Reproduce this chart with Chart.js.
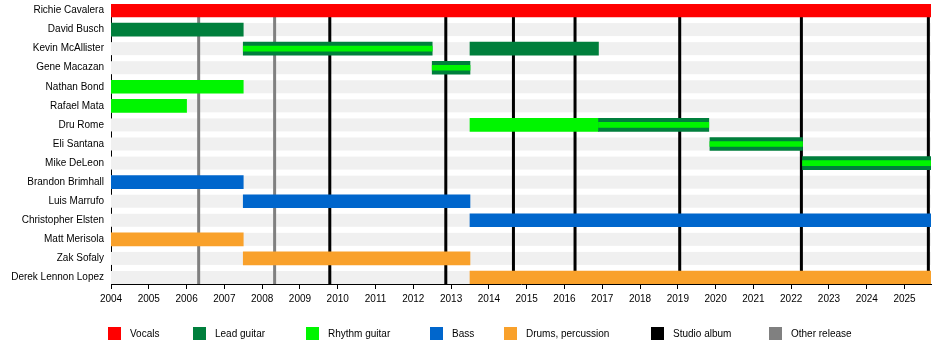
<!DOCTYPE html>
<html lang="en">
<head>
  <meta charset="UTF-8">
  <title>Band members timeline</title>
  <script src="https://cdn.jsdelivr.net/npm/chart.js"></script>
  <style>
    body {
      margin: 0;
      background: #fff;
      font-family: 'Liberation Sans', Arial, sans-serif;
    }
    .wrap {
      position: relative;
      width: 950px;
      height: 345px;
    }
    .legend-item {
      position: absolute;
      top: 327px;
      font-size: 10px;
      line-height: 13px;
      color: #000;
      white-space: nowrap;
    }
    .legend-item i {
      display: inline-block;
      width: 13px;
      height: 13px;
      vertical-align: top;
      margin-right: 9px;
    }
  </style>
</head>
<body>
  <div class="wrap">
    <canvas id="timeline" width="950" height="345"></canvas>
    <div id="legend"></div>
  </div>

  <script>
    const END = 2025.7;

    const members = [
      'Richie Cavalera', 'David Busch', 'Kevin McAllister', 'Gene Macazan',
      'Nathan Bond', 'Rafael Mata', 'Dru Rome', 'Eli Santana', 'Mike DeLeon',
      'Brandon Brimhall', 'Luis Marrufo', 'Christopher Elsten',
      'Matt Merisola', 'Zak Sofaly', 'Derek Lennon Lopez'
    ];

    // [row, start, end]
    const vocals = [[0, 2004, END]];
    const leadGuitar = [[1, 2004, 2007.5], [2, 2013.5, 2016.9]];
    const rhythmGuitar = [[4, 2004, 2007.5], [5, 2004, 2006], [6, 2013.5, 2016.9]];
    // lead + rhythm (striped)
    const leadRhythm = [
      [2, 2007.5, 2012.5], [3, 2012.5, 2013.5], [6, 2016.9, 2019.82],
      [7, 2019.85, 2022.3], [8, 2022.3, END]
    ];
    const bass = [[9, 2004, 2007.5], [10, 2007.5, 2013.5], [11, 2013.5, END]];
    const drums = [[12, 2004, 2007.5], [13, 2007.5, 2013.5], [14, 2013.5, END]];

    const studioAlbums = [2009.79, 2012.86, 2014.65, 2016.28, 2019.05, 2022.27, 2025.63];
    const otherReleases = [2006.32, 2008.33];

    const yearTicks = [];
    for (let y = 2004; y <= 2025; y++) yearTicks.push(y);

    const legendLabels = ['Vocals', 'Lead guitar', 'Rhythm guitar', 'Bass', 'Drums, percussion', 'Studio album', 'Other release'];
    const legendColors = ['#ff0000', '#007f3c', '#00f500', '#0066cc', '#f9a12b', '#000000', '#808080'];
    const legendLeft = [108, 193, 306, 430, 504, 651, 769];

    const spans = arr => arr.map(s => ({ y: s[0], x: [s[1], s[2]] }));

    function barSet(label, data, color, thickness, order) {
      return {
        label: label,
        data: spans(data),
        backgroundColor: color,
        barThickness: thickness,
        grouped: false,
        borderWidth: 0,
        order: order
      };
    }

    // row bands + release lines, drawn under the bars
    const backdrop = {
      id: 'backdrop',
      beforeDatasetsDraw(chart) {
        const { ctx, chartArea: a, scales: { x, y } } = chart;
        ctx.save();
        ctx.fillStyle = '#f0f0f0';
        members.forEach((m, i) => {
          const c = y.getPixelForValue(i);
          ctx.fillRect(a.left, c - 6.5, a.right - a.left, 13);
        });
        const drawLines = (vals, col) => {
          ctx.fillStyle = col;
          vals.forEach(v => {
            const px = x.getPixelForValue(v);
            ctx.fillRect(px - 1.5, a.top, 3, a.bottom - a.top);
          });
        };
        drawLines(otherReleases, '#808080');
        drawLines(studioAlbums, '#000000');
        ctx.restore();
      }
    };

    const noPad = s => {
      s.paddingTop = 0;
      s.paddingBottom = 0;
      s.paddingLeft = 0;
      s.paddingRight = 0;
    };

    new Chart(document.getElementById('timeline'), {
      type: 'bar',
      data: {
        datasets: [
          barSet('Rhythm stripe', leadRhythm, '#00f500', 5, 0),
          barSet('Vocals', vocals, '#ff0000', 13, 1),
          barSet('Lead guitar', leadGuitar.concat(leadRhythm), '#007f3c', 13, 1),
          barSet('Rhythm guitar', rhythmGuitar, '#00f500', 13, 1),
          barSet('Bass', bass, '#0066cc', 13, 1),
          barSet('Drums, percussion', drums, '#f9a12b', 13, 1)
        ]
      },
      options: {
        indexAxis: 'y',
        responsive: false,
        animation: false,
        layout: { padding: { top: 4, right: 19, left: 0, bottom: 0 } },
        plugins: {
          legend: { display: false },
          tooltip: { enabled: false }
        },
        scales: {
          x: {
            type: 'linear',
            position: 'bottom',
            offset: false,
            min: 2004,
            max: END,
            grid: { drawOnChartArea: false, drawTicks: true, tickLength: 5, color: '#000' },
            border: { color: '#000' },
            ticks: {
              color: '#000',
              font: { family: "'Liberation Sans', Arial, sans-serif", size: 10 },
              padding: 4,
              maxRotation: 0,
              autoSkip: false,
              callback: v => String(v)
            },
            afterBuildTicks: s => { s.ticks = yearTicks.map(v => ({ value: v })); },
            afterFit: s => { s.height = 61; noPad(s); }
          },
          y: {
            type: 'linear',
            reverse: true,
            offset: false,
            min: -0.341,
            max: 14.341,
            grid: { display: false, drawTicks: false, offset: false },
            border: { color: '#000' },
            ticks: {
              color: '#000',
              font: { family: "'Liberation Sans', Arial, sans-serif", size: 10 },
              padding: 7,
              autoSkip: false,
              callback: v => members[v]
            },
            afterBuildTicks: s => { s.ticks = members.map((m, i) => ({ value: i })); },
            afterFit: s => { s.width = 111; noPad(s); }
          }
        }
      },
      plugins: [backdrop]
    });

    const legend = document.getElementById('legend');
    legendLabels.forEach((txt, i) => {
      const el = document.createElement('div');
      el.className = 'legend-item';
      el.style.left = legendLeft[i] + 'px';
      el.innerHTML = '<i style="background:' + legendColors[i] + '"></i>' + txt;
      legend.appendChild(el);
    });
  </script>
</body>
</html>
